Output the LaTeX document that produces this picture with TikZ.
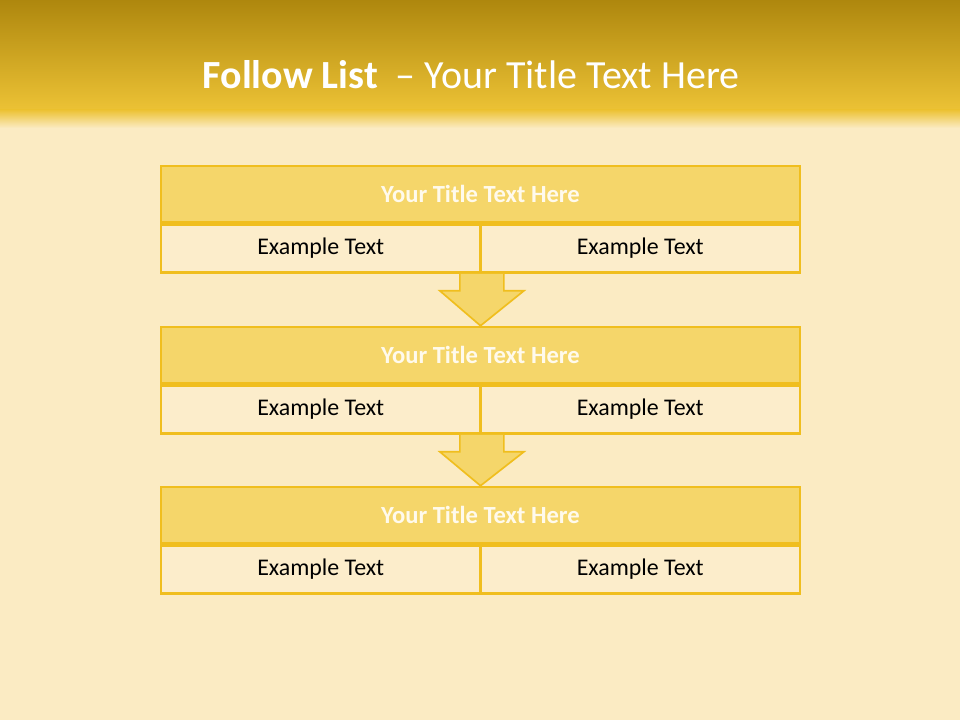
\documentclass[tikz,border=0pt]{standalone}
\usepackage{fontspec}
\setmainfont{Carlito}
\usepackage{tikz}
\usetikzlibrary{positioning,calc}

\definecolor{bgcream}{HTML}{FBEBC3}
\definecolor{headtop}{HTML}{AE870E}
\definecolor{headbot}{HTML}{ECC235}
\definecolor{boxline}{HTML}{F0BE1E}
\definecolor{titlefill}{HTML}{F5D66A}
\definecolor{cellfill}{HTML}{FCEDCB}
\definecolor{titletext}{HTML}{FFFAEC}

\begin{document}
\begin{tikzpicture}[
    x=0.025cm, y=-0.025cm,
    titlebox/.style={
        draw=boxline,
        fill=titlefill,
        line width=1.8pt,
        minimum width=15.975cm,
        minimum height=1.4cm,
        inner sep=0pt,
        text=titletext,
        font=\fontsize{17.5}{20}\selectfont\bfseries
    },
    cellbox/.style={
        draw=boxline,
        fill=cellfill,
        line width=1.8pt,
        minimum width=7.99cm,
        minimum height=1.2cm,
        inner sep=0pt,
        font=\fontsize{17}{20}\selectfont
    },
    flowarrow/.style={draw=boxline, fill=titlefill, line width=1.2pt, line join=miter}
]
\useasboundingbox (0,0) rectangle (960,720);

% background and header band
\fill[bgcream] (0,0) rectangle (960,720);
\shade[top color=headtop, bottom color=headbot] (0,0) rectangle (960,110);
\shade[top color=headbot, bottom color=bgcream] (0,110) rectangle (960,128);
\node[text=white, font=\fontsize{28.4}{33}\selectfont] (head) at (471,75)
    {\textbf{Follow List}\ \ – Your Title Text Here};

% first block
\node[titlebox] (title1) at (480.5,194) {Your Title Text Here};
\node[cellbox, anchor=north west] (left1) at (title1.south west) {Example Text};
\node[cellbox, anchor=north east] (right1) at (title1.south east) {Example Text};

% second block
\node[titlebox] (title2) at (480.5,355) {Your Title Text Here};
\node[cellbox, anchor=north west] (left2) at (title2.south west) {Example Text};
\node[cellbox, anchor=north east] (right2) at (title2.south east) {Example Text};

% third block
\node[titlebox] (title3) at (480.5,515) {Your Title Text Here};
\node[cellbox, anchor=north west] (left3) at (title3.south west) {Example Text};
\node[cellbox, anchor=north east] (right3) at (title3.south east) {Example Text};

% block arrows
\draw[flowarrow] ($(left1.south east)+(-22,0)$) -- ++(0,17) -- ++(-20,0)
    -- (title2.north) -- ($(left1.south east)+(42,17)$) -- ++(-20,0) -- ++(0,-17);
\draw[flowarrow] ($(left2.south east)+(-22,0)$) -- ++(0,17) -- ++(-20,0)
    -- (title3.north) -- ($(left2.south east)+(42,17)$) -- ++(-20,0) -- ++(0,-17);
\end{tikzpicture}
\end{document}
